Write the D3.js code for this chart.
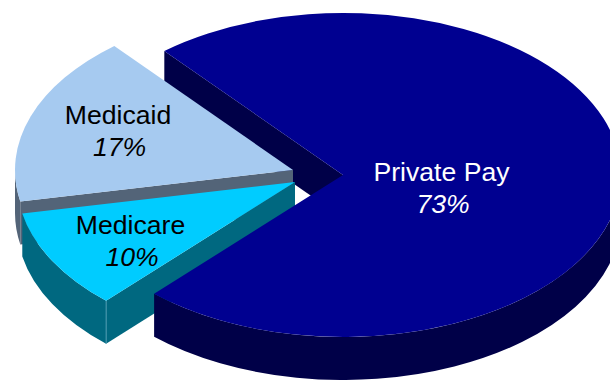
<!DOCTYPE html>
<html>
<head>
<meta charset="utf-8">
<script src="https://cdn.jsdelivr.net/npm/d3@7"></script>
<style>
  html, body { margin: 0; background: #fff; }
  svg { display: block; }
  text { font-family: "Liberation Sans", Arial, sans-serif; font-size: 26.6px; text-anchor: middle; }
</style>
</head>
<body>
<script>
// Payer mix, in percent
const categories = ["Private Pay", "Medicare", "Medicaid"];
const shares = [73, 10, 17];
const topColors = ["#000090", "#00ccff", "#a6caf0"];
const wallColors = ["#000048", "#006880", "#536478"];
const labelColors = ["#ffffff", "#000000", "#000000"];

const W = 610, H = 380;
const RX = 278, RY = 162, DEPTH = 43;
const START = -40 * Math.PI / 180;

// Each slice is pulled away from the pie's middle by its own offset
const hubs = [[343, 175], [295, 182], [293, 170]];
const labelSpots = [[441.5, 181], [130.5, 234], [118, 124]];
const percentNudge = 1.5;

const svg = d3.select("body").append("svg").attr("width", W).attr("height", H);

const slices = d3.pie().sort(null).value(d => d)
  .startAngle(START).endAngle(START + 2 * Math.PI)(shares);

const arc = d3.arc().innerRadius(0).outerRadius(RX);

// Position on the tilted rim, angle measured clockwise from twelve o'clock
const rim = (hub, a) => [hub[0] + RX * Math.sin(a), hub[1] - RY * Math.cos(a)];

// Outer wall between two rim angles
function rimWall(hub, a0, a1) {
  const [x0, y0] = rim(hub, a0), [x1, y1] = rim(hub, a1);
  return `M${x0},${y0}A${RX},${RY} 0 0 1 ${x1},${y1}` +
         `L${x1},${y1 + DEPTH}A${RX},${RY} 0 0 0 ${x0},${y0 + DEPTH}Z`;
}

// Flat wall along a cut, from the hub out to the rim
function cutWall(hub, a) {
  const [x, y] = rim(hub, a);
  return `M${hub[0]},${hub[1]}L${x},${y}L${x},${y + DEPTH}L${hub[0]},${hub[1] + DEPTH}Z`;
}

// Only the near half of the rim (3 to 9 o'clock) faces the viewer
const NEAR0 = Math.PI / 2, NEAR1 = 3 * Math.PI / 2;

function drawCut(i) {
  svg.append("path").attr("d", cutWall(hubs[i], slices[i].startAngle)).attr("fill", wallColors[i]);
}

function drawBody(i) {
  const s = slices[i], hub = hubs[i];
  const a0 = Math.max(s.startAngle, NEAR0), a1 = Math.min(s.endAngle, NEAR1);
  if (a1 > a0) svg.append("path").attr("d", rimWall(hub, a0, a1)).attr("fill", wallColors[i]);
  svg.append("path")
    .attr("transform", `translate(${hub[0]},${hub[1]}) scale(1,${RY / RX})`)
    .attr("d", arc(s))
    .attr("fill", topColors[i]);
}

// Back to front: the inner face of the large slice sits behind the small
// slices, while its top and rim sit in front of them
drawCut(0);
drawCut(2);
drawBody(2);
drawCut(1);
drawBody(1);

// Bright seam on the Medicare corner
{
  const [x, y] = rim(hubs[1], slices[1].startAngle);
  svg.append("line").attr("x1", x).attr("y1", y).attr("x2", x).attr("y2", y + DEPTH)
    .attr("stroke", "#5aa6bc").attr("stroke-width", 0.8);
}
drawBody(0);

// Name and share on each slice
categories.forEach((name, i) => {
  const [x, y] = labelSpots[i];
  svg.append("text").attr("x", x).attr("y", y).attr("fill", labelColors[i]).text(name);
  svg.append("text").attr("x", x + percentNudge).attr("y", y + 32).attr("fill", labelColors[i])
    .attr("font-style", "italic").text(d3.format("d")(shares[i]) + "%");
});
</script>
</body>
</html>
